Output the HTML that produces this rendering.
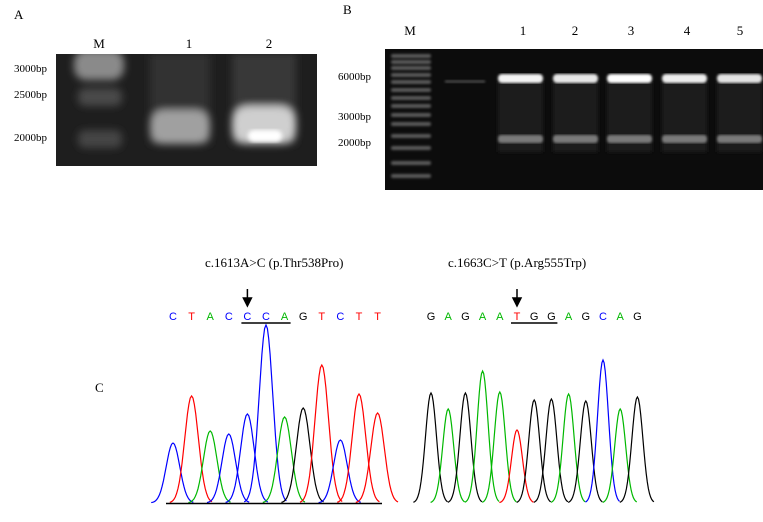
<!DOCTYPE html>
<html><head><meta charset="utf-8"><style>
body{margin:0;background:#fff;width:763px;height:517px;overflow:hidden}
svg text{font-family:"Liberation Serif",serif}
svg text.bc{font-family:"Liberation Sans",sans-serif}
</style></head><body>
<svg width="763" height="517">
<defs>
<filter id="b2"><feGaussianBlur stdDeviation="2"/></filter>
<filter id="b4"><feGaussianBlur stdDeviation="4"/></filter>
<filter id="b1"><feGaussianBlur stdDeviation="1.3"/></filter>
<clipPath id="ca"><rect x="56" y="54" width="261" height="112"/></clipPath>
<clipPath id="cb"><rect x="385" y="49" width="378" height="141"/></clipPath>
</defs>
<text x="14" y="19" font-size="13">A</text>
<text x="99" y="48" font-size="13" text-anchor="middle">M</text>
<text x="189" y="48" font-size="13" text-anchor="middle">1</text>
<text x="269" y="48" font-size="13" text-anchor="middle">2</text>
<text x="14" y="72" font-size="11">3000bp</text>
<text x="14" y="98" font-size="11">2500bp</text>
<text x="14" y="141" font-size="11">2000bp</text>
<g clip-path="url(#ca)">
<rect x="56" y="54" width="261" height="112" fill="#1e1e1e"/>
<g filter="url(#b4)">
<rect x="74" y="50" width="50" height="30" rx="12" fill="#8a8a8a"/>
<rect x="78" y="88" width="44" height="18" rx="7" fill="#4a4a4a"/>
<rect x="78" y="130" width="44" height="18" rx="7" fill="#454545"/>
<rect x="150" y="54" width="60" height="90" fill="#333"/>
<rect x="150" y="110" width="60" height="34" rx="14" fill="#a0a0a0"/>
<rect x="232" y="54" width="64" height="90" fill="#383838"/>
<rect x="232" y="106" width="64" height="38" rx="16" fill="#cfcfcf"/>
</g>
<rect x="248" y="130" width="34" height="12" rx="6" fill="#fff" filter="url(#b2)"/>
</g>
<text x="343" y="14" font-size="13">B</text>
<text x="410" y="35" font-size="13" text-anchor="middle">M</text>
<text x="523" y="35" font-size="13" text-anchor="middle">1</text>
<text x="575" y="35" font-size="13" text-anchor="middle">2</text>
<text x="631" y="35" font-size="13" text-anchor="middle">3</text>
<text x="687" y="35" font-size="13" text-anchor="middle">4</text>
<text x="740" y="35" font-size="13" text-anchor="middle">5</text>
<text x="338" y="80" font-size="11">6000bp</text>
<text x="338" y="120" font-size="11">3000bp</text>
<text x="338" y="146" font-size="11">2000bp</text>
<g clip-path="url(#cb)">
<rect x="385" y="49" width="378" height="141" fill="#0c0c0c"/>
<g id="ladder" fill="#5a5a5a" filter="url(#b1)"></g>
<rect x="445" y="80" width="40" height="3" fill="#444" filter="url(#b1)"/>
<g id="lanesB"></g>
</g>
<text x="95" y="392" font-size="13">C</text>
<text x="205" y="267" font-size="13">c.1613A&gt;C (p.Thr538Pro)</text>
<text x="448" y="267" font-size="13">c.1663C&gt;T (p.Arg555Trp)</text>
<g id="chrom1"></g>
<g id="chrom2"></g>
</svg>
<script>
const NS='http://www.w3.org/2000/svg';
function mk(p,t,a){const e=document.createElementNS(NS,t);for(const k in a)e.setAttribute(k,a[k]);p.appendChild(e);return e;}
const ladderY=[56,62,68,75,82,90,98,106,115,124,136,148,163,176];
const lad=document.getElementById('ladder');
ladderY.forEach(y=>{const r=mk(lad,'rect',{x:391,y:y-2,width:40,height:4,rx:2});

});
const laneX=[498,553,607,662,717];
const bandBright=['#f4f4f4','#e8e8e8','#ffffff','#eeeeee','#e4e4e4'];
const lb=document.getElementById('lanesB');
laneX.forEach((x,i)=>{
 mk(lb,'rect',{x:x,y:82,width:45,height:70,fill:'#1c1c1c',filter:'url(#b2)'});
 const b=mk(lb,'rect',{x:x,y:74,width:45,height:9,rx:4,fill:bandBright[i],filter:'url(#b1)'});
 
 
 const c=mk(lb,'rect',{x:x,y:135,width:45,height:8,rx:3,fill:'#7a7a7a',filter:'url(#b1)'});
 
 
});
const COL={A:'#00b800',C:'#0000ff',G:'#000000',T:'#ff0000'};
const seq1=['C','T','A','C','C','C','A','G','T','C','T','T'];
const peakH1=[60,107,72,69,89,178,86,95,138,63,109,90];
const seq2=['G','A','G','A','A','T','G','G','A','G','C','A','G'];
const peakH2=[110,94,110,132,111,73,103,104,109,102,143,94,106];
function chrom(g,seq,H,x0,dx,base,ul,ar,sigma,axis){
 seq.forEach((b,i)=>{const x=x0+i*dx;
  const t=mk(g,'text',{x:x,y:320,'font-size':11,'text-anchor':'middle',fill:COL[b],'class':'bc'});t.textContent=b;
  
  
  let d='';for(let k=-3.2;k<=3.2;k+=0.2){const px=x+k*sigma;const py=base-H[i]*Math.exp(-k*k/2);d+=(d?'L':'M')+px.toFixed(1)+','+py.toFixed(1);}
  const p=mk(g,'path',{d:d,fill:'none',stroke:COL[b],'stroke-width':1.2});
  
  
 });
 const u=mk(g,'line',{x1:x0+ul[0]*dx-6,x2:x0+ul[1]*dx+6,y1:323,y2:323,stroke:'#000','stroke-width':1.5});
 
 
 const ax=x0+ar*dx;
 const a=mk(g,'path',{d:`M${ax},289 L${ax},299 M${ax-4},298 L${ax},306 L${ax+4},298 Z`,stroke:'#000','stroke-width':1.5,fill:'#000'});
 
 
 if(axis){const l=mk(g,'line',{x1:166,x2:382,y1:base+0.5,y2:base+0.5,stroke:'#000','stroke-width':1.5});
 
 }
}
chrom(document.getElementById('chrom1'),seq1,peakH1,173,18.6,503,[4,6],4,6.8,true);
chrom(document.getElementById('chrom2'),seq2,peakH2,431,17.2,503,[5,7],5,5.5,false);
</script>
</body></html>
